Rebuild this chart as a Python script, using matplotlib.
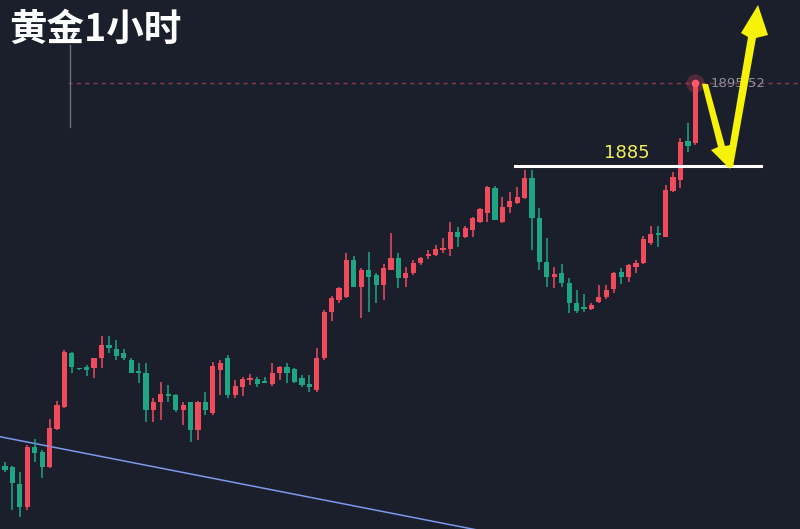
import matplotlib
matplotlib.use('Agg')
import matplotlib.pyplot as plt
import numpy as np
from matplotlib.patches import Polygon

plt.rcParams['font.family'] = ['Noto Sans CJK SC', 'DejaVu Sans']

TITLE = '黄金1小时'
LEVEL = 1885
LAST_PRICE = 1895.52

opens = [1846.8, 1846.7, 1844.5, 1841.6, 1849.2, 1848.6, 1846.7, 1851.5, 1854.3, 1861.2,
         1859.2, 1859.4, 1859.3, 1860.5, 1862.2, 1861.7, 1861.2, 1860.3, 1858.8, 1858.7,
         1854.0, 1854.9, 1856.0, 1855.9, 1854.0, 1854.9, 1851.4, 1854.9, 1853.6, 1859.0,
         1860.6, 1855.9, 1856.9, 1857.8, 1857.9, 1857.5, 1857.3, 1858.7, 1859.4, 1859.2,
         1858.0, 1857.3, 1856.5, 1860.5, 1866.4, 1867.9, 1868.3, 1873.0, 1869.6, 1871.8,
         1871.1, 1869.8, 1871.8, 1873.3, 1870.7, 1871.4, 1872.6, 1873.5, 1873.7, 1874.3,
         1874.4, 1876.6, 1876.0, 1876.8, 1877.9, 1879.0, 1882.2, 1877.9, 1879.8, 1880.3,
         1880.9, 1883.5, 1878.4, 1872.8, 1870.9, 1871.4, 1870.1, 1867.6, 1867.0, 1866.8,
         1867.7, 1868.3, 1869.3, 1871.5, 1870.9, 1872.1, 1872.6, 1875.2, 1876.5, 1876.0,
         1881.8, 1883.2, 1888.2, 1887.9]
highs = [1847.3, 1846.8, 1846.1, 1849.5, 1850.3, 1848.9, 1852.8, 1855.1, 1861.6, 1861.3,
         1859.3, 1859.7, 1860.6, 1863.4, 1863.4, 1862.9, 1861.7, 1860.6, 1859.9, 1859.9,
         1855.5, 1857.5, 1857.1, 1856.0, 1855.0, 1855.0, 1855.1, 1856.2, 1860.1, 1860.3,
         1861.0, 1857.8, 1858.1, 1858.5, 1858.1, 1858.1, 1859.9, 1859.6, 1859.9, 1859.3,
         1858.4, 1858.4, 1861.8, 1866.7, 1868.5, 1869.6, 1873.9, 1873.5, 1872.0, 1874.0,
         1871.4, 1872.5, 1876.5, 1873.9, 1872.1, 1873.0, 1873.4, 1874.3, 1874.9, 1875.8,
         1877.9, 1877.2, 1877.4, 1878.5, 1879.6, 1882.4, 1882.4, 1881.0, 1881.7, 1882.3,
         1884.5, 1884.5, 1879.6, 1875.8, 1872.1, 1872.5, 1870.7, 1869.2, 1868.7, 1867.6,
         1869.8, 1869.8, 1871.5, 1872.0, 1872.5, 1873.0, 1876.1, 1877.4, 1877.4, 1882.6,
         1884.2, 1888.5, 1890.5, 1895.52]
lows = [1846.0, 1841.2, 1840.3, 1841.2, 1847.3, 1845.3, 1846.6, 1851.4, 1854.2, 1858.7,
        1859.0, 1858.3, 1858.0, 1859.3, 1861.2, 1860.3, 1860.3, 1858.7, 1857.4, 1852.4,
        1852.4, 1852.7, 1855.0, 1853.7, 1852.0, 1849.9, 1850.1, 1853.3, 1853.3, 1855.9,
        1855.5, 1855.5, 1855.7, 1857.1, 1856.9, 1857.4, 1857.0, 1857.8, 1857.4, 1857.4,
        1856.9, 1856.2, 1856.2, 1860.3, 1865.2, 1867.6, 1868.2, 1869.6, 1865.7, 1866.4,
        1867.6, 1867.9, 1871.8, 1869.5, 1869.6, 1871.1, 1872.4, 1873.2, 1873.5, 1873.9,
        1873.5, 1874.7, 1875.8, 1876.0, 1877.7, 1877.9, 1878.1, 1877.7, 1879.0, 1880.2,
        1880.8, 1874.3, 1871.8, 1869.6, 1869.5, 1869.6, 1866.3, 1866.3, 1866.4, 1866.7,
        1867.6, 1868.1, 1868.8, 1870.0, 1870.2, 1871.4, 1872.5, 1874.9, 1874.7, 1876.0,
        1881.7, 1882.2, 1886.8, 1887.7]
closes = [1846.3, 1844.7, 1841.6, 1849.2, 1848.5, 1846.7, 1851.7, 1854.6, 1861.3, 1859.4,
          1859.1, 1859.0, 1860.5, 1862.2, 1861.8, 1860.8, 1860.6, 1858.7, 1858.7, 1854.0,
          1854.9, 1856.0, 1855.7, 1854.0, 1854.6, 1851.4, 1854.9, 1854.0, 1859.5, 1859.9,
          1855.9, 1857.0, 1857.9, 1858.0, 1857.3, 1857.4, 1858.7, 1859.4, 1858.7, 1857.5,
          1857.1, 1856.9, 1860.6, 1866.4, 1868.2, 1869.4, 1873.0, 1869.6, 1871.8, 1870.9,
          1869.8, 1872.0, 1873.3, 1870.7, 1871.4, 1872.6, 1873.3, 1873.8, 1874.4, 1874.6,
          1876.6, 1876.0, 1877.1, 1878.4, 1879.5, 1882.3, 1878.1, 1879.8, 1880.5, 1881.0,
          1883.5, 1878.4, 1872.8, 1870.9, 1871.3, 1870.1, 1867.6, 1866.5, 1866.8, 1867.3,
          1868.3, 1869.2, 1871.4, 1870.9, 1872.4, 1872.6, 1875.7, 1876.3, 1876.2, 1881.9,
          1883.6, 1888.0, 1887.5, 1895.52]

# blue trend line anchors (bar index, price)
trend_x = [-1, 70]
trend_y = [1850.6, 1837.5]

BG = '#1b1f2c'
UP = '#f04b5d'
DOWN = '#1fa584'

o = np.array(opens); h = np.array(highs); l = np.array(lows); c = np.array(closes)
idx = np.arange(len(o))
up = c >= o
colors = np.where(up, UP, DOWN)

fig = plt.figure(figsize=(8, 5.29), dpi=100, facecolor=BG)
ax = fig.add_axes([0, 0, 1, 1])
ax.set_facecolor(BG)

# dashed last price line
ax.plot([8.5, 108], [LAST_PRICE, LAST_PRICE], color='#8a3b4c', lw=1,
        dashes=(3, 3))

ax.plot(trend_x, trend_y, color='#7d98ec', lw=1.1)

ax.vlines(idx, l, h, colors=colors, lw=1.1)
body_lo = np.minimum(o, c)
body_h = np.maximum(np.abs(c - o), 0.18)
ax.bar(idx, body_h, bottom=body_lo, width=0.7, color=colors, linewidth=0)

# support level
ax.plot([68.7, 101.8], [LEVEL, LEVEL], color='white', lw=2.2)
ax.text(83.8, LEVEL + 0.45, str(LEVEL), color='#f4f05a', fontsize=13,
        ha='center', va='bottom', family=['DejaVu Sans'])

# glowing last price dot
last = len(o) - 1
ax.scatter([last], [LAST_PRICE], s=170, color=UP, alpha=0.25, linewidths=0, zorder=5)
ax.scatter([last], [LAST_PRICE], s=30, color='#ff5a6a', linewidths=0, zorder=6)
ax.text(last + 2.0, LAST_PRICE, f'{LAST_PRICE:.2f}', color='#8d919b', fontsize=9.5,
        va='center', ha='left', family=['DejaVu Sans'])

# faint vertical marker on the left
ax.plot([8.8, 8.8], [1900.4, 1890.0], color='#6b707b', lw=1)

ax.set_xlim(-0.674, 107.1)
ax.set_ylim(1838.8, 1906.1)
ax.axis('off')

# hand drawn yellow arrows (axes fraction coords)
W, H = 800.0, 529.0
down_px = [(702, 84), (708, 84), (725, 146), (736, 144), (730, 169), (711, 150), (718, 147)]
up_px = [(726, 167), (733, 167), (756, 38), (768, 35), (758, 5), (741, 33), (748, 37)]
for pts in (down_px, up_px):
    poly = Polygon([(x / W, 1 - y / H) for x, y in pts], closed=True,
                   facecolor='#f7f20a', edgecolor='none', transform=ax.transAxes, zorder=7)
    ax.add_patch(poly)

fig.text(9 / W, 1 - 29 / H, TITLE, color='white', fontsize=27, fontweight='bold',
         va='center', ha='left')

fig.savefig('out.png', dpi=100, facecolor=BG)
